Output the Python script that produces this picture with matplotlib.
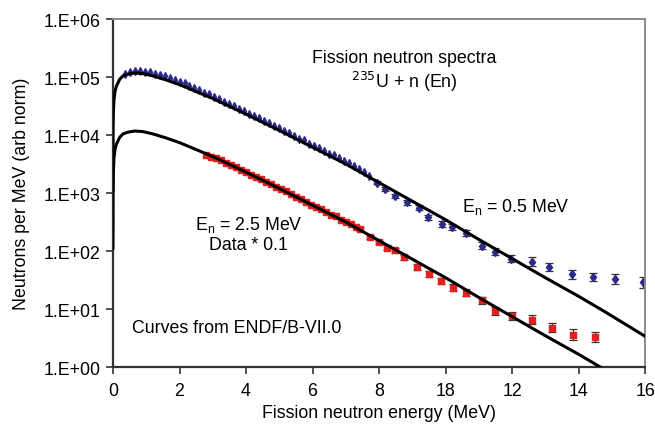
import numpy as np
import matplotlib
matplotlib.use('Agg')
import matplotlib.pyplot as plt

plt.rcParams['font.family'] = ['Liberation Sans', 'DejaVu Sans']

# ENDF/B-VII.0 curves, values (log10 of neutrons per MeV)
curve_e = [0.0001, 0.003, 0.01, 0.03, 0.06, 0.1, 0.2, 0.3, 0.45, 0.66, 0.9, 1.2,
           1.6, 2.0, 2.5, 3.0, 4.0, 5.0, 6.0, 7.0, 8.0, 9.0, 10.0, 11.0, 12.0,
           13.0, 14.0, 14.8, 15.0, 16.0]
curve_low_log = [2.05, 3.1, 3.35, 3.61, 3.75, 3.84, 3.96, 4.02, 4.05, 4.07, 4.06, 4.02,
                 3.95, 3.87, 3.75, 3.63, 3.36, 3.08, 2.79, 2.50, 2.18, 1.86, 1.54, 1.20, 0.87,
                 0.54, 0.22, -0.05, -0.12, -0.45]
curve_high_log = [3.05, 4.1, 4.35, 4.61, 4.75, 4.84, 4.96, 5.02, 5.05, 5.07, 5.06, 5.02,
                  4.95, 4.87, 4.75, 4.63, 4.36, 4.08, 3.79, 3.50, 3.18, 2.86, 2.54, 2.20, 1.87,
                  1.54, 1.22, 0.95, 0.88, 0.53]

# En = 0.5 MeV data (blue)
blue_e = [0.35, 0.5, 0.65, 0.8, 0.95, 1.1, 1.25, 1.4, 1.55, 1.7, 1.85, 2.0, 2.15, 2.3,
          2.45, 2.6, 2.75, 2.9, 3.05, 3.2, 3.35, 3.5, 3.65, 3.8, 3.95, 4.1, 4.25, 4.4,
          4.55, 4.7, 4.85, 5.0, 5.15, 5.3, 5.45, 5.6, 5.75, 5.9, 6.05, 6.2, 6.35, 6.5,
          6.65, 6.8, 6.95, 7.1, 7.25, 7.4, 7.55, 7.7]
blue_log = [5.05, 5.08, 5.10, 5.11, 5.09, 5.08, 5.06, 5.04, 5.01, 4.98, 4.95, 4.91, 4.89, 4.84,
            4.81, 4.77, 4.73, 4.70, 4.65, 4.62, 4.57, 4.53, 4.50, 4.45, 4.41, 4.37, 4.33, 4.29,
            4.24, 4.21, 4.16, 4.12, 4.07, 4.03, 3.99, 3.94, 3.91, 3.85, 3.82, 3.77, 3.73, 3.68,
            3.65, 3.60, 3.56, 3.51, 3.47, 3.42, 3.36, 3.30]
blue_sparse_e = [7.94, 8.19, 8.49, 8.85, 9.2, 9.47, 9.9, 10.2, 10.6, 11.1, 11.5, 11.98,
                 12.61, 13.11, 13.79, 14.44, 15.09, 15.92]
blue_sparse_log = [3.18, 3.07, 2.95, 2.84, 2.75, 2.58, 2.47, 2.41, 2.31, 2.09, 1.99, 1.87,
                   1.82, 1.72, 1.60, 1.56, 1.52, 1.46]
blue_sparse_err = [0.03, 0.03, 0.04, 0.04, 0.04, 0.05, 0.05, 0.05, 0.05, 0.06, 0.06, 0.06,
                   0.07, 0.07, 0.08, 0.07, 0.08, 0.09]

# En = 2.5 MeV data * 0.1 (red)
red_e = [2.8, 2.95, 3.1, 3.25, 3.4, 3.55, 3.7, 3.85, 4.0, 4.15, 4.3, 4.45, 4.6, 4.75,
         4.9, 5.05, 5.2, 5.35, 5.5, 5.65, 5.8, 5.95, 6.1, 6.25, 6.4, 6.55, 6.7, 6.85,
         7.0, 7.15, 7.3]
red_log = [3.65, 3.63, 3.60, 3.57, 3.52, 3.49, 3.45, 3.40, 3.37, 3.31, 3.28, 3.24, 3.19, 3.15,
           3.10, 3.07, 3.03, 2.98, 2.93, 2.90, 2.85, 2.80, 2.76, 2.73, 2.67, 2.63, 2.60, 2.54,
           2.50, 2.46, 2.41]
red_sparse_e = [7.44, 7.74, 7.99, 8.24, 8.49, 8.74, 9.15, 9.5, 9.87, 10.22, 10.6, 11.1,
                11.5, 12.0, 12.61, 13.21, 13.82, 14.49]
red_sparse_log = [2.38, 2.24, 2.15, 2.06, 2.01, 1.89, 1.72, 1.61, 1.49, 1.37, 1.28, 1.15,
                  0.97, 0.88, 0.82, 0.68, 0.56, 0.52]
red_sparse_err = [0.03, 0.03, 0.03, 0.04, 0.04, 0.04, 0.05, 0.05, 0.05, 0.06, 0.06, 0.06,
                  0.07, 0.07, 0.08, 0.08, 0.09, 0.09]

x_ticks = [0, 2, 4, 6, 8, 10, 12, 14, 16]
x_labels = ['0', '2', '4', '6', '8', '18', '12', '14', '16']
y_ticks = [1e0, 1e1, 1e2, 1e3, 1e4, 1e5, 1e6]
y_labels = ['1.E+00', '1.E+01', '1.E+02', '1.E+03', '1.E+04', '1.E+05', '1.E+06']

BLUE = '#2b2a8c'
RED = '#e3201b'
FS = 12.8


def to_lin(v):
    return 10 ** np.array(v)


def err_bounds(logs, errs):
    logs = np.array(logs)
    errs = np.array(errs)
    y = 10 ** logs
    return y, [y - 10 ** (logs - errs), 10 ** (logs + errs) - y]


fig = plt.figure(figsize=(6.55, 4.27), dpi=100)
ax = fig.add_axes([0.1725, 0.138, 0.8125, 0.815])

# data points
ax.plot(blue_e, to_lin(blue_log), ls='none', marker='d', ms=3.8, color=BLUE, mec=BLUE)
y, yerr = err_bounds(blue_sparse_log, blue_sparse_err)
ax.errorbar(blue_sparse_e, y, yerr=yerr, fmt='d', ms=4.5, color=BLUE, mec=BLUE,
            ecolor='#333333', elinewidth=0.9, capsize=3, capthick=0.9)

ax.plot(red_e, to_lin(red_log), ls='none', marker='s', ms=4.5, color=RED, mec=RED)
y, yerr = err_bounds(red_sparse_log, red_sparse_err)
ax.errorbar(red_sparse_e, y, yerr=yerr, fmt='s', ms=5, color=RED, mec=RED,
            ecolor='#333333', elinewidth=0.9, capsize=3, capthick=0.9)

# curves
ax.plot(curve_e, to_lin(curve_high_log), color='black', lw=2.2, zorder=3)
ax.plot(curve_e, to_lin(curve_low_log), color='black', lw=2.2, zorder=3)

ax.set_yscale('log')
ax.set_xlim(0, 16)
ax.set_ylim(1, 1e6)
ax.set_xticks(x_ticks)
ax.set_xticklabels(x_labels)
ax.set_yticks(y_ticks)
ax.set_yticklabels(y_labels)
ax.minorticks_off()
ax.tick_params(axis='both', labelsize=FS, length=5, width=1.2, color='#333333',
               direction='out')
ax.tick_params(axis='x', pad=6)
ax.tick_params(axis='y', pad=4)

for side in ['left', 'bottom']:
    ax.spines[side].set_color('#333333')
    ax.spines[side].set_linewidth(1.6)
for side in ['top', 'right']:
    ax.spines[side].set_color('#8a8a8a')
    ax.spines[side].set_linewidth(1.4)

ax.set_xlabel('Fission neutron energy (MeV)', fontsize=FS, labelpad=3)
ax.set_ylabel('Neutrons per MeV (arb norm)', fontsize=FS, labelpad=10)

ax.text(8.75, 2.2e5, 'Fission neutron spectra', fontsize=FS, ha='center', va='center')
ax.text(8.75, 8.5e4, r'$^{235}$U + n (En)', fontsize=FS, ha='center', va='center')
ax.text(12.1, 6.0e2, r'E$_\mathregular{n}$ = 0.5 MeV', fontsize=FS, ha='center', va='center')
ax.text(4.07, 2.9e2, r'E$_\mathregular{n}$ = 2.5 MeV', fontsize=FS, ha='center', va='center')
ax.text(4.07, 1.3e2, 'Data * 0.1', fontsize=FS, ha='center', va='center')
ax.text(0.57, 4.9, 'Curves from ENDF/B-VII.0', fontsize=FS, ha='left', va='center')

fig.savefig('out.png', dpi=100)
